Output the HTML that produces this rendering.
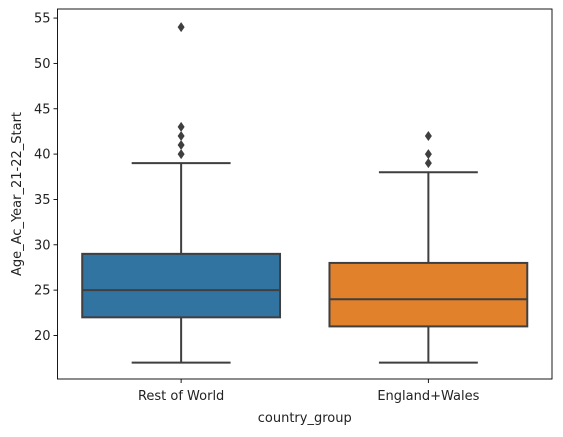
<!DOCTYPE html>
<html><head><meta charset="utf-8"><style>
body{margin:0;background:#fff;}
svg text{font-family:"DejaVu Sans","Liberation Sans",sans-serif;fill:#222;}
</style></head><body>
<svg id="chart" width="563" height="432" xmlns="http://www.w3.org/2000/svg"></svg>
<script>
const categories = ["Rest of World", "England+Wales"];
const q1 = [22, 21];
const medians = [25, 24];
const q3 = [29, 28];
const whiskerLow = [17, 17];
const whiskerHigh = [39, 38];
const outliers = [[40, 41, 42, 43, 54], [39, 40, 42]];
const colors = ["#3274a1", "#e1812c"];
const yTicks = [20, 25, 30, 35, 40, 45, 50, 55];

const NS = "http://www.w3.org/2000/svg";
const svg = document.getElementById("chart");
const L = 57.5, R = 552, T = 9, B = 379;
const yMin = 15.2, yMax = 56.0;
function y(v){ return B - (v - yMin) / (yMax - yMin) * (B - T); }
const band = (R - L) / categories.length;
function xc(i){ return L + band * (i + 0.5); }
const bw = band * 0.8;
function el(tag, attrs, parent){ const e = document.createElementNS(NS, tag); for (const k in attrs) e.setAttribute(k, attrs[k]); (parent || svg).appendChild(e); return e; }

const ax = el("rect", {x:L, y:T, width:R-L, height:B-T, fill:"none", stroke:"#000", "stroke-width":0.9});



yTicks.forEach(t => {
  const g = el("g", {});
  
  
  el("line", {x1:L-4, x2:L, y1:y(t), y2:y(t), stroke:"#000", "stroke-width":0.9}, g);
  const tx = el("text", {x:L-7, y:y(t)+4.5, "text-anchor":"end", "font-size":13}, g);
  tx.textContent = t;
});

categories.forEach((c, i) => {
  const g = el("g", {});
  
  
  const cx = xc(i), st = "#3f3f3f";
  el("line", {x1:cx, x2:cx, y1:y(whiskerHigh[i]), y2:y(q3[i]), stroke:st, "stroke-width":2}, g);
  el("line", {x1:cx, x2:cx, y1:y(q1[i]), y2:y(whiskerLow[i]), stroke:st, "stroke-width":2}, g);
  el("line", {x1:cx-bw/4, x2:cx+bw/4, y1:y(whiskerHigh[i]), y2:y(whiskerHigh[i]), stroke:st, "stroke-width":2}, g);
  el("line", {x1:cx-bw/4, x2:cx+bw/4, y1:y(whiskerLow[i]), y2:y(whiskerLow[i]), stroke:st, "stroke-width":2}, g);
  el("rect", {x:cx-bw/2, y:y(q3[i]), width:bw, height:y(q1[i])-y(q3[i]), fill:colors[i], stroke:st, "stroke-width":2}, g);
  el("line", {x1:cx-bw/2, x2:cx+bw/2, y1:y(medians[i]), y2:y(medians[i]), stroke:st, "stroke-width":2}, g);
  outliers[i].forEach(o => {
    const yy = y(o);
    const p = el("path", {d:`M${cx},${yy-5} L${cx+3.5},${yy} L${cx},${yy+5} L${cx-3.5},${yy} Z`, fill:st}, g);
    
    
  });
  el("line", {x1:cx, x2:cx, y1:B, y2:B+4, stroke:"#000", "stroke-width":0.9}, g);
  const lab = el("text", {x:cx, y:B+21, "text-anchor":"middle", "font-size":13}, g);
  lab.textContent = c;
});

const xt = el("text", {x:(L+R)/2, y:422, "text-anchor":"middle", "font-size":13});
xt.textContent = "country_group";


const yt = el("text", {x:0, y:0, "text-anchor":"middle", "font-size":13, transform:`translate(21,${(T+B)/2}) rotate(-90)`});
yt.textContent = "Age_Ac_Year_21-22_Start";


</script>
</body></html>
